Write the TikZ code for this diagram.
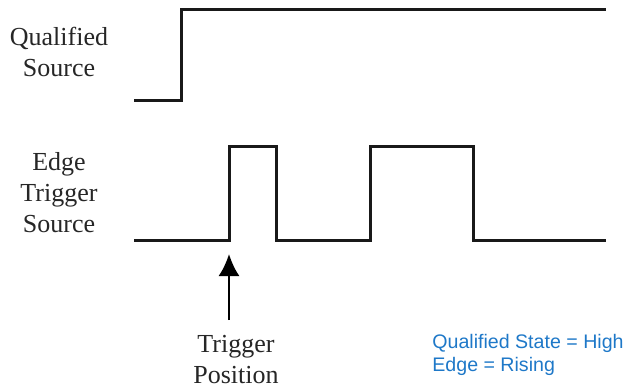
\documentclass[tikz,border=0pt]{standalone}
\usepackage{fontspec}
\setmainfont{Liberation Serif}
\newfontfamily\notefont{Liberation Sans}
\usetikzlibrary{arrows.meta}
\definecolor{noteblue}{RGB}{30,120,200}

\begin{document}
\begin{tikzpicture}[x=0.5pt,y=-0.5pt,
  wave/.style={line width=1.5pt,line join=miter,black!90},
  sig/.style={font=\fontsize{13}{15.5}\selectfont,text=black!85,align=center,inner sep=0pt},
  note/.style={font=\notefont\fontsize{9.8}{11.5}\selectfont,text=noteblue,align=left,inner sep=0pt}]
\useasboundingbox (0,0) rectangle (627,390);
% signal names
\node[sig] (qs) at (59,52) {Qualified\\Source};
\node[sig] (ets) at (59,193) {Edge\\Trigger\\Source};
\node[sig] (tp) at (236,360) {Trigger\\Position};
\node[note,anchor=west] (cond) at (432,355) {Qualified State = High\\Edge = Rising};
% qualified source
\draw[wave] (134,101) -- (181,101) -- (181,10) -- (606,10);
% edge trigger source
\draw[wave] (134,240) -- (229,240) -- (229,147) -- (276,147) -- (276,240)
  -- (370,240) -- (370,147) -- (473,147) -- (473,240) -- (606,240);
% trigger marker
\coordinate (tail) at (229,320);
\coordinate (tip) at (229,254);
\draw[line width=1.2pt,-{Latex[length=11pt,width=10.5pt]}] (tail) -- (tip);
\end{tikzpicture}
\end{document}
